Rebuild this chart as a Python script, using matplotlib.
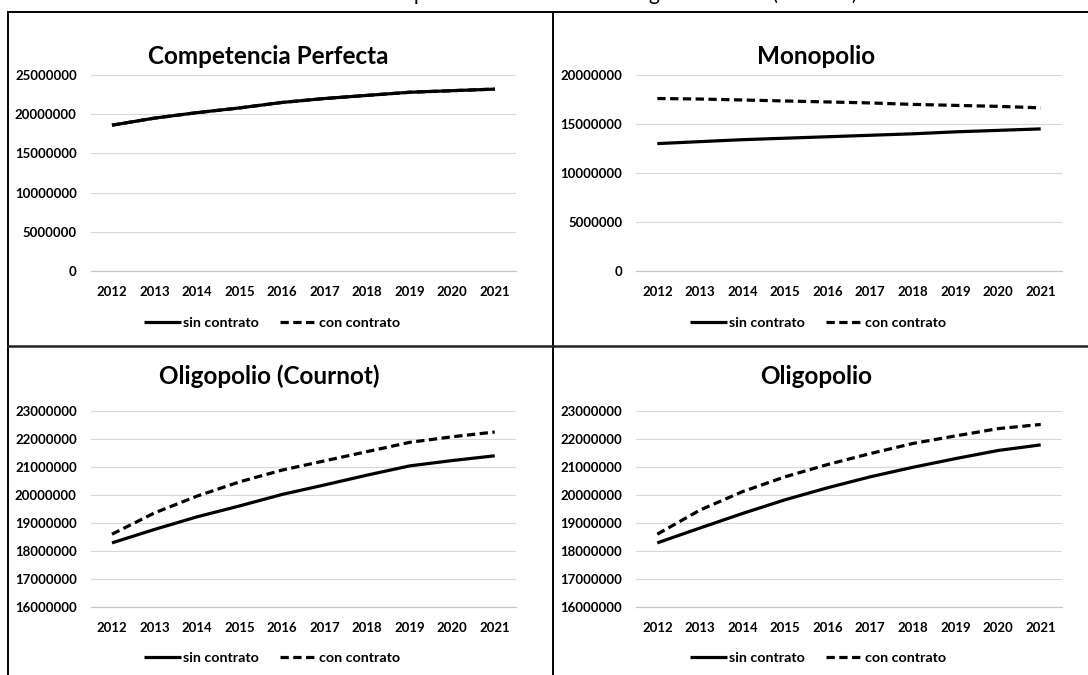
import matplotlib
matplotlib.use("Agg")
import matplotlib.pyplot as plt
from matplotlib.lines import Line2D

plt.rcParams["font.family"] = ["Lato", "DejaVu Sans"]

years = ["2012", "2013", "2014", "2015", "2016", "2017", "2018", "2019", "2020", "2021"]
series_names = ["sin contrato", "con contrato"]

# Competencia Perfecta
cp_sin = [18600000, 19500000, 20200000, 20800000, 21500000, 22000000, 22400000, 22800000, 23000000, 23200000]
cp_con = [18600000, 19500000, 20200000, 20800000, 21500000, 22000000, 22400000, 22800000, 23000000, 23200000]
cp_ticks = [0, 5000000, 10000000, 15000000, 20000000, 25000000]

# Monopolio
mo_sin = [13000000, 13200000, 13400000, 13550000, 13700000, 13850000, 14000000, 14200000, 14350000, 14500000]
mo_con = [17600000, 17550000, 17450000, 17350000, 17250000, 17150000, 17000000, 16900000, 16800000, 16650000]
mo_ticks = [0, 5000000, 10000000, 15000000, 20000000]

# Oligopolio (Cournot)
oc_sin = [18290000, 18770000, 19220000, 19610000, 20020000, 20360000, 20710000, 21040000, 21230000, 21400000]
oc_con = [18600000, 19360000, 19960000, 20470000, 20890000, 21220000, 21550000, 21880000, 22080000, 22250000]
ol_ticks = [16000000, 17000000, 18000000, 19000000, 20000000, 21000000, 22000000, 23000000]

# Oligopolio
ol_sin = [18290000, 18820000, 19340000, 19830000, 20260000, 20650000, 20990000, 21300000, 21590000, 21790000]
ol_con = [18600000, 19460000, 20120000, 20650000, 21090000, 21480000, 21840000, 22110000, 22370000, 22520000]

W, H = 1088, 675
fig = plt.figure(figsize=(W / 100, H / 100), dpi=100)


def px_axes(x0, x1, ytop, ybot):
    return fig.add_axes([x0 / W, 1 - ybot / H, (x1 - x0) / W, (ybot - ytop) / H])


def draw_panel(rect, title, title_xy, legend_x, legend_y, sin, con, ticks):
    ax = px_axes(*rect)
    xs = range(len(years))
    ax.plot(xs, con, color="black", lw=2.3, ls=(0, (2.6, 1.4)), dash_capstyle="butt",
            label=series_names[1], zorder=3)
    ax.plot(xs, sin, color="black", lw=2.3, solid_capstyle="butt", label=series_names[0], zorder=4)
    ax.set_xlim(-0.5, len(years) - 0.5)
    ax.set_ylim(ticks[0], ticks[-1])
    ax.set_yticks(ticks)
    ax.set_yticklabels([str(t) for t in ticks])
    ax.set_xticks(list(xs))
    ax.set_xticklabels(years)
    ax.grid(axis="y", color="#d9d9d9", lw=0.8)
    ax.set_axisbelow(True)
    for s in ["top", "right", "left"]:
        ax.spines[s].set_visible(False)
    ax.spines["bottom"].set_color("#c8c8c8")
    ax.spines["bottom"].set_linewidth(0.9)
    ax.tick_params(length=0, labelsize=9.5, colors="black")
    ax.tick_params(axis="y", pad=10)
    ax.tick_params(axis="x", pad=11)
    for lab in ax.get_xticklabels() + ax.get_yticklabels():
        lab.set_fontweight("bold")
    fig.text(title_xy[0] / W, 1 - title_xy[1] / H, title, ha="center", va="center",
             fontsize=17.5, fontweight="bold")
    h, l = ax.get_legend_handles_labels()
    fig.legend(h[::-1], l[::-1], loc="center", bbox_to_anchor=(legend_x / W, 1 - legend_y / H),
               ncol=2, frameon=False, handlelength=2.6, handletextpad=0.1, columnspacing=1.5,
               prop={"size": 10.3, "weight": "bold"})
    return ax


draw_panel((90.7, 516, 75, 271), "Competencia Perfecta", (268, 56), 272, 323, cp_sin, cp_con, cp_ticks)
draw_panel((636, 1062, 75, 271), "Monopolio", (816, 56), 818, 323, mo_sin, mo_con, mo_ticks)
draw_panel((90.7, 516, 411, 607), "Oligopolio (Cournot)", (269, 376), 272, 658, oc_sin, oc_con, ol_ticks)
draw_panel((636, 1062, 411, 607), "Oligopolio", (816, 376), 818, 658, ol_sin, ol_con, ol_ticks)


# cell borders
def fig_line(x0, y0, x1, y1, lw=1.4, color="black"):
    fig.add_artist(Line2D([x0 / W, x1 / W], [1 - y0 / H, 1 - y1 / H], color=color, lw=lw,
                          transform=fig.transFigure))


fig_line(8, 12, W + 5, 12)
fig_line(8, 12, 8, H + 5)
fig_line(553, 12, 553, H + 5)
fig_line(8, 346, W + 5, 346, lw=1.8, color="#222222")

# page title, cropped at the top edge as in the source (only descenders show)
fig.text(279 / W, 1 + 0.5 / H, "Excedente del productor del mercado según contrato (en soles)",
         ha="left", va="baseline", fontsize=15, color="black")

fig.savefig("out.png", dpi=100)
